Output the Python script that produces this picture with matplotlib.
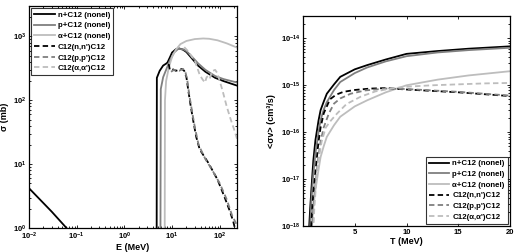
import numpy as np
import matplotlib as mpl
mpl.use("Agg")
from matplotlib import pyplot as plt

mpl.rcParams['font.family'] = ['Liberation Sans', 'DejaVu Sans']
mpl.rcParams['font.weight'] = 'bold'
mpl.rcParams['axes.labelweight'] = 'bold'
mpl.rcParams.update({'font.size': 5.5})

# ---- left panel: cross sections sigma(E) in mb ----
E_n = [0.01, 0.03, 0.08, np.nan, 4.75, 4.8, 5.5, 6.5, 7.5, 8, 9, 10, 12, 14, 17, 20, 25, 35, 50, 80, 120, 230]
sig_n = [4.2, 1.8, 0.8, np.nan, 0.5, 225, 290, 350, 375, 390, 470, 560, 630, 650, 620, 570, 470, 350, 280, 225, 200, 170]

E_p = [5.7, 5.8, 6.5, 7.5, 9, 11, 13.5, 17, 20, 25, 35, 50, 80, 120, 230]
sig_p = [0.5, 150, 230, 300, 420, 560, 640, 630, 590, 500, 380, 300, 240, 215, 190]

E_a = [7.0, 7.1, 7.5, 8.5, 10, 12, 15, 20, 30, 45, 60, 90, 140, 230]
sig_a = [0.5, 100, 200, 320, 480, 620, 760, 850, 910, 930, 920, 870, 780, 670]

E_nn = [8.5, 9, 10, 12, 14, 16, 18, 20, 22, 24, 27.5, 32, 38, 58, 90, 125, 160, 190, 215]
sig_nn = [370, 300, 310, 290, 300, 310, 290, 230, 140, 91, 50, 27, 17, 10.4, 5.7, 3.1, 1.9, 1.3, 0.9]

E_pp = [9.5, 11, 14, 17, 19, 21, 23, 26, 30, 36, 50, 70, 100, 140, 180, 230]
sig_pp = [280, 300, 290, 310, 280, 200, 120, 70, 38, 20, 12, 8, 5, 2.8, 1.6, 1.1]

E_aa = [18, 22, 26, 30, 35, 38, 44, 49, 53, 57, 62, 69, 80, 88, 100, 115, 140, 170, 200, 230]
sig_aa = [680, 580, 480, 420, 300, 250, 210, 190, 230, 240, 220, 285, 300, 270, 200, 140, 80, 50, 35, 25]

# ---- right panel: rates <sigma v>, stored as log10(cm^3/s) ----
T_n = [0.5, 0.7, 0.87, 1.0, 1.2, 1.5, 1.7, 2.0, 2.3, 3.0, 3.6, 5.0, 6.2, 8.0, 10, 13, 16, 20]
r_n = [-18.4, -17.6, -17.02, -16.6, -16.17, -15.75, -15.53, -15.35, -15.18, -14.98, -14.82, -14.66, -14.57, -14.45, -14.33, -14.27, -14.22, -14.17]

T_p = [0.6, 0.8, 1.0, 1.2, 1.5, 1.7, 2.0, 2.3, 3.0, 3.6, 5, 6.2, 8, 10, 13, 16, 20]
r_p = [-18.5, -17.5, -16.9, -16.45, -16.0, -15.74, -15.52, -15.36, -15.1, -14.93, -14.74, -14.62, -14.49, -14.38, -14.3, -14.25, -14.2]

T_a = [0.75, 0.9, 1.0, 1.2, 1.5, 1.7, 2.0, 2.3, 3.0, 3.6, 5, 6.2, 8, 10, 13, 16, 20]
r_a = [-18.6, -17.9, -17.6, -17.23, -16.8, -16.53, -16.3, -16.1, -15.85, -15.67, -15.45, -15.32, -15.15, -15.0, -14.88, -14.79, -14.70]

T_nn = [0.75, 0.9, 1.0, 1.2, 1.5, 1.7, 2.0, 2.6, 3.2, 3.9, 5, 6.5, 8, 10, 12.5, 15, 17.5, 20]
r_nn = [-18.2, -17.6, -17.3, -16.85, -16.2, -15.9, -15.6, -15.3, -15.2, -15.14, -15.1, -15.07, -15.06, -15.09, -15.12, -15.15, -15.19, -15.23]

T_pp = [0.85, 1.0, 1.2, 1.5, 1.7, 2.0, 2.5, 3.0, 3.6, 4.6, 6, 8, 10, 12.5, 15, 17.5, 20]
r_pp = [-18.3, -17.6, -17.1, -16.5, -16.2, -15.9, -15.6, -15.39, -15.28, -15.18, -15.11, -15.07, -15.08, -15.11, -15.14, -15.18, -15.22]

T_aa = [0.95, 1.1, 1.3, 1.5, 1.8, 2.2, 2.7, 3.3, 4.2, 5.6, 7, 8.5, 10, 12.5, 15, 17.5, 20]
r_aa = [-18.3, -17.6, -17.0, -16.6, -16.2, -15.9, -15.75, -15.6, -15.4, -15.24, -15.13, -15.07, -15.03, -15.0, -14.98, -14.96, -14.95]

labels = ["n+C12 (nonel)", "p+C12 (nonel)", "α+C12 (nonel)",
          "C12(n,n')C12", "C12(p,p')C12", "C12(α,α')C12"]
colors = ["black", "#7f7f7f", "#bdbdbd", "black", "#7f7f7f", "#bdbdbd"]
dash = (3, 1.8)


def style_axes(ax):
  ax.tick_params(direction='in', which='both', top=True, right=True, width=0.6, pad=2, labelsize=5.5)
  ax.tick_params(which='major', length=2.5)
  ax.tick_params(which='minor', length=1.3)
  for s in ax.spines.values():
    s.set_linewidth(0.9)


def add_legend(ax, where):
  leg = ax.legend(loc=where, frameon=True, fancybox=False, edgecolor='black',
                  handlelength=2.6, borderpad=0.35, labelspacing=0.4, handletextpad=0.4,
                  borderaxespad=0.3, fontsize=5.7)
  leg.get_frame().set_linewidth(0.8)


fig = plt.figure(figsize=(5.18, 2.52), dpi=100)

ax1 = fig.add_axes([29 / 518, 24 / 252, 208 / 518, 222 / 252])
left_data = [(E_n, sig_n), (E_p, sig_p), (E_a, sig_a), (E_nn, sig_nn), (E_pp, sig_pp), (E_aa, sig_aa)]
for i, (x, y) in enumerate(left_data):
  ls = '-' if i < 3 else '--'
  l, = ax1.plot(x, y, color=colors[i], lw=1.3, linestyle=ls, label=labels[i])
  if i >= 3:
    l.set_dashes(dash)
ax1.set_xscale('log')
ax1.set_yscale('log')
ax1.set_xlim(0.01, 230)
ax1.set_ylim(1, 3000)
ax1.set_xlabel("E (MeV)", labelpad=1, fontsize=6.5)
ax1.set_ylabel("σ (mb)", labelpad=3, fontsize=6.5)
style_axes(ax1)
add_legend(ax1, 'upper left')

ax2 = fig.add_axes([303 / 518, 26 / 252, 207 / 518, 210 / 252])
right_data = [(T_n, r_n), (T_p, r_p), (T_a, r_a), (T_nn, r_nn), (T_pp, r_pp), (T_aa, r_aa)]
for i, (x, y) in enumerate(right_data):
  ls = '-' if i < 3 else '--'
  l, = ax2.plot(x, np.power(10.0, y), color=colors[i], lw=1.3, linestyle=ls, label=labels[i])
  if i >= 3:
    l.set_dashes(dash)
ax2.set_yscale('log')
ax2.set_xlim(0, 20)
ax2.set_ylim(1e-18, 3e-14)
ax2.set_xticks([5, 10, 15, 20])
ax2.set_xlabel("T (MeV)", labelpad=1, fontsize=6.5)
ax2.set_ylabel("<σv> (cm³/s)", labelpad=3, fontsize=6.5)
style_axes(ax2)
add_legend(ax2, 'lower right')

plt.savefig("out.png", dpi=100)
